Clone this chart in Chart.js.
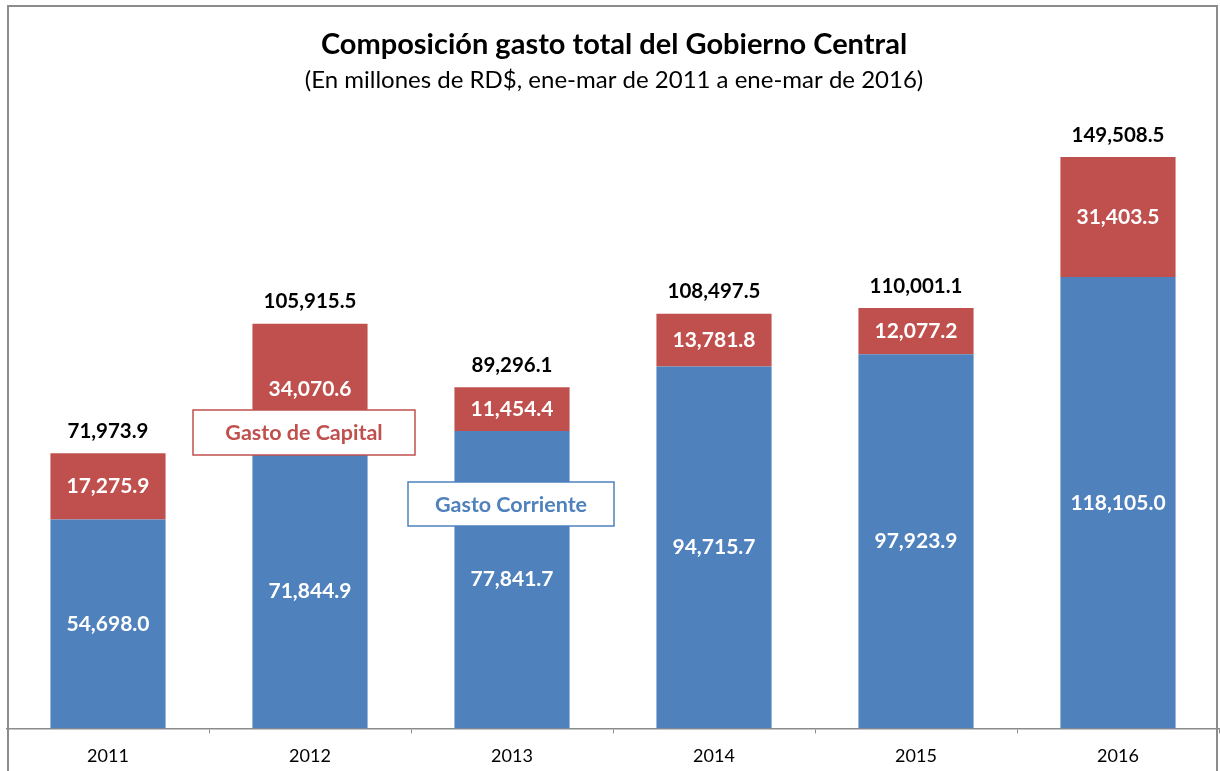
<!DOCTYPE html>
<html>
<head>
<meta charset="utf-8">
<script src="https://cdn.jsdelivr.net/npm/chart.js@4"></script>
<style>
  html, body { margin: 0; padding: 0; background: #fff; }
  #wrap { width: 1220px; height: 771px; }
</style>
</head>
<body>
<div id="wrap"><canvas id="myChart" width="1220" height="771"></canvas></div>
<script>
// Datos (millones de RD$, ene-mar)
const years = ['2011', '2012', '2013', '2014', '2015', '2016'];
const gastoCorriente = [54698.0, 71844.9, 77841.7, 94715.7, 97923.9, 118105.0];
const gastoCapital = [17275.9, 34070.6, 11454.4, 13781.8, 12077.2, 31403.5];
const gastoTotal = [71973.9, 105915.5, 89296.1, 108497.5, 110001.1, 149508.5];

const titulo = 'Composición gasto total del Gobierno Central';
const subtitulo = '(En millones de RD$, ene-mar de 2011 a ene-mar de 2016)';

const azul = '#4F81BD';
const rojo = '#C0504D';
const FONT = 'Lato, "Open Sans", sans-serif';

function fmt(v) {
    return v.toLocaleString('en-US', { minimumFractionDigits: 1, maximumFractionDigits: 1 });
}

// Marco, títulos, etiquetas y recuadros
const extras = {
    id: 'extras',
    beforeDraw(chart) {
        const ctx = chart.ctx;
        ctx.save();
        ctx.strokeStyle = '#8c8c8c';
        ctx.lineWidth = 2;
        ctx.strokeRect(8, 6, 1209, 800);
        ctx.restore();
    },
    afterDatasetsDraw(chart) {
        const ctx = chart.ctx;
        ctx.save();
        ctx.textAlign = 'center';
        ctx.textBaseline = 'middle';

        ctx.fillStyle = '#000';
        ctx.font = 'bold 29px ' + FONT;
        ctx.fillText(titulo, 614, 45);
        ctx.font = '24px ' + FONT;
        ctx.fillText(subtitulo, 614, 80);

        // valores dentro de las barras
        ctx.fillStyle = '#fff';
        ctx.font = 'bold 21px ' + FONT;
        chart.data.datasets.forEach((ds, i) => {
            chart.getDatasetMeta(i).data.forEach((bar, j) => {
                const mid = (bar.y + bar.base) / 2;
                ctx.fillText(fmt(ds.data[j]), bar.x, mid);
            });
        });

        // totales encima
        ctx.fillStyle = '#000';
        ctx.font = 'bold 20.5px ' + FONT;
        chart.getDatasetMeta(1).data.forEach((bar, j) => {
            ctx.fillText(fmt(gastoTotal[j]), bar.x, bar.y - 22);
        });

        // recuadros de leyenda
        const boxes = [
            { text: 'Gasto de Capital', x: 193, y: 410, w: 222, h: 45, color: rojo },
            { text: 'Gasto Corriente', x: 408, y: 482, w: 206, h: 44, color: azul }
        ];
        boxes.forEach(b => {
            ctx.fillStyle = '#fff';
            ctx.fillRect(b.x, b.y, b.w, b.h);
            ctx.strokeStyle = b.color;
            ctx.lineWidth = 1.5;
            ctx.strokeRect(b.x, b.y, b.w, b.h);
            ctx.fillStyle = b.color;
            ctx.font = 'bold 21.5px ' + FONT;
            ctx.fillText(b.text, b.x + b.w / 2, b.y + b.h / 2 + 1);
        });
        ctx.restore();
    }
};

const ctx = document.getElementById('myChart').getContext('2d');
const myChart = new Chart(ctx, {
    type: 'bar',
    data: {
        labels: years,
        datasets: [{
            label: 'Gasto Corriente',
            data: gastoCorriente,
            backgroundColor: azul,
            barPercentage: 0.57,
            categoryPercentage: 1
        }, {
            label: 'Gasto de Capital',
            data: gastoCapital,
            backgroundColor: rojo,
            barPercentage: 0.57,
            categoryPercentage: 1
        }]
    },
    options: {
        responsive: false,
        animation: false,
        layout: { padding: { left: 7, right: 1, top: 117, bottom: -8 } },
        plugins: {
            legend: { display: false },
            tooltip: { enabled: false }
        },
        scales: {
            x: {
                stacked: true,
                grid: {
                    offset: true,
                    drawOnChartArea: false,
                    tickLength: 5,
                    color: '#8c8c8c'
                },
                border: { color: '#8c8c8c', width: 1.5 },
                ticks: {
                    color: '#000',
                    padding: 12,
                    font: { family: FONT, size: 18 }
                }
            },
            y: {
                stacked: true,
                display: false,
                min: 0,
                max: 160000
            }
        }
    },
    plugins: [extras]
});
</script>
</body>
</html>
